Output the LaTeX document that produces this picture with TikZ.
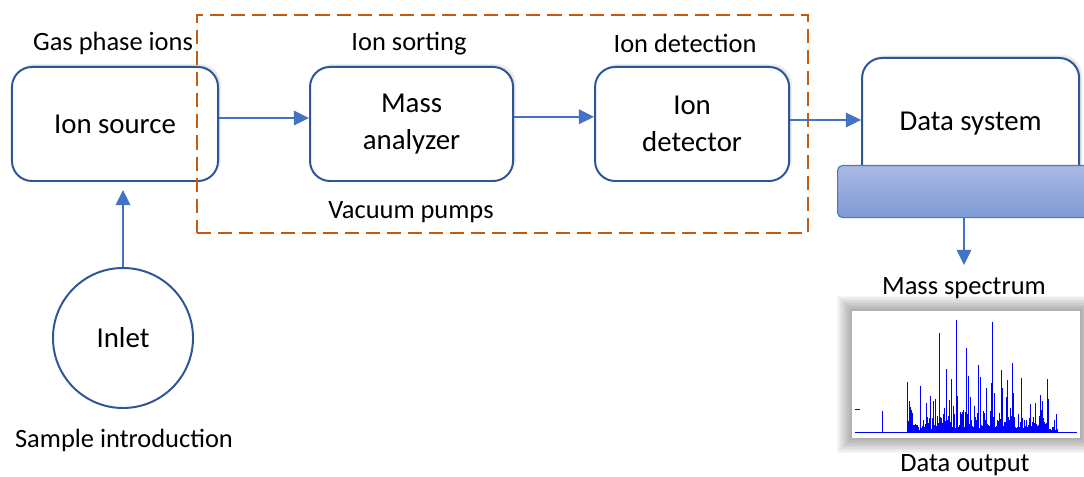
\documentclass[tikz,border=0pt]{standalone}
\usepackage{fontspec}
\setmainfont{Carlito}
\usepackage{xcolor}
\usetikzlibrary{positioning}
\usetikzlibrary{arrows.meta}
\usetikzlibrary{shadows}
\usetikzlibrary{backgrounds}
\definecolor{boxblue}{RGB}{47,85,151}
\definecolor{arrowblue}{RGB}{68,114,196}
\definecolor{vacorange}{RGB}{197,90,17}
\definecolor{bartop}{RGB}{170,185,226}
\definecolor{barbottom}{RGB}{126,154,215}
\definecolor{barline}{RGB}{79,116,199}
\newcommand{\pxl}{0.025cm}

\begin{document}
\begin{tikzpicture}[x=\pxl, y=-\pxl,
stagebox/.style={rectangle, draw=boxblue, fill=white, line width=1.4pt, rounded corners=0.5cm, minimum height=2.85cm, align=center, font=\fontsize{20.5}{26.3}\selectfont,
  general shadow={fill=black, opacity=0.06, shadow xshift=2.2pt, shadow yshift=2.2pt},
  general shadow={fill=black, opacity=0.08, shadow xshift=1.1pt, shadow yshift=1.1pt}},
inletnode/.style={circle, draw=boxblue, fill=white, line width=1.4pt, minimum size=3.5cm, font=\fontsize{20.5}{24}\selectfont},
databar/.style={rectangle, draw=barline, line width=0.8pt, top color=bartop, bottom color=barbottom, rounded corners=0.125cm},
vacuumbox/.style={rectangle, draw=vacorange, line width=1.8pt, dash pattern=on 10pt off 5pt},
lbl/.style={inner sep=0pt, font=\fontsize{18.8}{22}\selectfont},
flow/.style={draw=arrowblue, line width=1.5pt, -{Triangle[length=0.38cm, width=0.36cm]}},
specline/.style={draw=blue, line width=0.45pt},
]
\useasboundingbox (0,0) rectangle (1084,477);

%Nodes
\node[stagebox, minimum width=5.15cm]		(source)	at (115,124)				{Ion source};
\node[stagebox, minimum width=5.075cm]		(analyzer)	[right=2.25cm of source]	{Mass\\analyzer};
\node[stagebox, minimum width=4.85cm]		(detector)	[right=2cm of analyzer]		{Ion\\detector};
\node[stagebox, minimum width=5.425cm, minimum height=3.3cm]	(datasys)	[right=1.775cm of detector]	{Data system};
\node[databar, minimum width=6.5cm, minimum height=1.3cm, anchor=north west]	(bar)	at (837,165)	{};
\node[inletnode]	(inlet)		at (123,338)	{Inlet};
\node[vacuumbox, minimum width=15.275cm, minimum height=5.45cm]	(vacuum)	at (502.5,124)	{};

%Labels
\node[lbl]	(gasions)	at (113,43)		{Gas phase ions};
\node[lbl]	(sorting)	at (409,44)		{Ion sorting};
\node[lbl]	(detection)	at (685,43)		{Ion detection};
\node[lbl]	(pumps)		at (411,212)	{Vacuum pumps};
\node[lbl]	(speclabel)	at (964,288)	{Mass spectrum};
\node[lbl]	(intro)		at (124,440)	{Sample introduction};
\node[lbl]	(output)	at (965,465)	{Data output};

%Spectrum
\node[rectangle, fill=white, minimum width=5.7cm, minimum height=3.175cm, inner sep=0pt]	(spectrum)	at (966,374.5)	{};
\begin{scope}[on background layer]
\foreach \g in {1,...,10}
  \fill[black, opacity=0.035] ([shift={(-1.5*\g,-1.5*\g)}]spectrum.north west) rectangle ([shift={(1.5*\g,1.5*\g)}]spectrum.south east);
\end{scope}
\draw[specline] (855,432.7) -- (1077,432.7);
\draw[specline] (855,409) -- (860,409);
\pgfmathsetseed{42}
\foreach \i in {0,...,150}{
  \pgfmathsetmacro\sx{907+\i}
  \pgfmathsetmacro\env{0.55+0.45*sin(1.2*\i)}
  \pgfmathsetmacro\sh{\env*(4+18*rnd) + (rnd>0.7)*\env*(10+36*rnd)}
  \draw[specline] (\sx,432.7) -- (\sx,432.7-\sh);
}
\foreach \pkx/\pky in {882.7/410.7, 907.7/381.7, 920/386, 939/332.7, 946.7/369, 956.7/320, 966.7/348, 978/365, 986.7/390, 992.3/322, 1001.7/370, 1012.7/362.7, 1021.7/378, 1040/395, 1047.3/379, 1056.7/414}
  \draw[specline, line width=0.7pt] (\pkx,432.7) -- (\pkx,\pky);

%Lines
\draw[flow] ([yshift=0.15cm]source.east) -- ([yshift=0.15cm]analyzer.west);
\draw[flow] ([yshift=0.18cm]analyzer.east) -- ([yshift=0.18cm]detector.west);
\draw[flow] ([yshift=0.1cm]detector.east) -- ([yshift=0.1cm]datasys.west);
\draw[flow, shorten >=0.2cm] (inlet.north) -- (inlet.north |- source.south);
\draw[flow, shorten >=0.3cm] (bar.south -| speclabel) -- (speclabel.north);
\end{tikzpicture}
\end{document}
